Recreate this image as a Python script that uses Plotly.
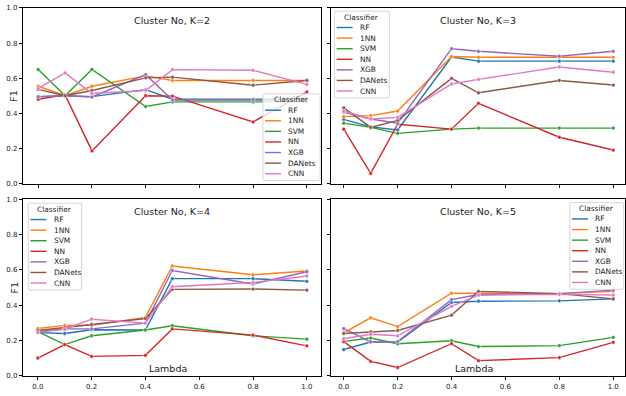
import plotly.graph_objects as go

# ---------------- data ----------------
lambdas = [0.0, 0.1, 0.2, 0.4, 0.5, 0.8, 1.0]
classifiers = ["RF", "1NN", "SVM", "NN", "XGB", "DANets", "CNN"]
colors = ["#1f77b4", "#ff7f0e", "#2ca02c", "#d62728", "#9467bd", "#8c564b", "#e377c2"]
panel_titles = ["Cluster No, K=2", "Cluster No, K=3", "Cluster No, K=4", "Cluster No, K=5"]
y_ticks = [0.0, 0.2, 0.4, 0.6, 0.8, 1.0]
y_tick_labels = ["0.0", "0.2", "0.4", "0.6", "0.8", "1.0"]
x_ticks = [0.0, 0.2, 0.4, 0.6, 0.8, 1.0]
x_tick_labels = ["0.0", "0.2", "0.4", "0.6", "0.8", "1.0"]

k2_rf     = [0.495, 0.500, 0.495, 0.535, 0.480, 0.480, 0.480]
k2_1nn    = [0.554, 0.500, 0.554, 0.613, 0.587, 0.587, 0.587]
k2_svm    = [0.649, 0.500, 0.650, 0.439, 0.465, 0.465, 0.465]
k2_nn     = [0.480, 0.505, 0.186, 0.500, 0.498, 0.351, 0.522]
k2_xgb    = [0.494, 0.500, 0.493, 0.620, 0.476, 0.476, 0.476]
k2_danets = [0.536, 0.500, 0.530, 0.602, 0.606, 0.560, 0.587]
k2_cnn    = [0.542, 0.630, 0.513, 0.530, 0.649, 0.645, 0.565]

k3_rf     = [0.366, 0.323, 0.305, 0.720, 0.697, 0.697, 0.697]
k3_1nn    = [0.381, 0.387, 0.413, 0.723, 0.719, 0.720, 0.719]
k3_svm    = [0.344, 0.320, 0.286, 0.310, 0.316, 0.316, 0.316]
k3_nn     = [0.310, 0.058, 0.338, 0.310, 0.457, 0.264, 0.191]
k3_xgb    = [0.407, 0.368, 0.344, 0.768, 0.753, 0.725, 0.753]
k3_danets = [0.431, 0.320, 0.360, 0.599, 0.517, 0.587, 0.561]
k3_cnn    = [0.413, 0.368, 0.377, 0.567, 0.593, 0.664, 0.634]

k4_rf     = [0.244, 0.239, 0.260, 0.259, 0.550, 0.550, 0.535]
k4_1nn    = [0.267, 0.285, 0.285, 0.330, 0.622, 0.572, 0.593]
k4_svm    = [0.250, 0.176, 0.226, 0.259, 0.283, 0.226, 0.207]
k4_nn     = [0.100, 0.176, 0.109, 0.115, 0.265, 0.230, 0.169]
k4_xgb    = [0.250, 0.265, 0.265, 0.298, 0.596, 0.520, 0.589]
k4_danets = [0.256, 0.274, 0.290, 0.324, 0.489, 0.491, 0.485]
k4_cnn    = [0.245, 0.263, 0.320, 0.298, 0.504, 0.528, 0.565]

k5_rf     = [0.148, 0.191, 0.190, 0.415, 0.422, 0.424, 0.435]
k5_1nn    = [0.242, 0.328, 0.278, 0.467, 0.467, 0.465, 0.478]
k5_svm    = [0.194, 0.213, 0.181, 0.198, 0.165, 0.170, 0.217]
k5_nn     = [0.193, 0.081, 0.046, 0.181, 0.085, 0.102, 0.189]
k5_xgb    = [0.267, 0.191, 0.193, 0.431, 0.460, 0.465, 0.485]
k5_danets = [0.239, 0.248, 0.256, 0.343, 0.478, 0.465, 0.435]
k5_cnn    = [0.209, 0.235, 0.226, 0.393, 0.456, 0.461, 0.457]

panels = [
    [k2_rf, k2_1nn, k2_svm, k2_nn, k2_xgb, k2_danets, k2_cnn],
    [k3_rf, k3_1nn, k3_svm, k3_nn, k3_xgb, k3_danets, k3_cnn],
    [k4_rf, k4_1nn, k4_svm, k4_nn, k4_xgb, k4_danets, k4_cnn],
    [k5_rf, k5_1nn, k5_svm, k5_nn, k5_xgb, k5_danets, k5_cnn],
]

# ---------------- layout helpers (pixel geometry) ----------------
W, H = 626, 396
FONT = "DejaVu Sans"
TXT = "#1a1a1a"

def px(x):
    return x / W

def py(y):
    return 1 - y / H

# axes boxes in pixels: (left, right, top, bottom) and x position of data 0 / 1
boxes = [
    (23.3, 321.7, 4.0, 183.3, 38.3, 307.3),
    (331.7, 625.5, 4.0, 183.3, 344.3, 614.2),
    (23.3, 321.7, 199.3, 379.3, 37.9, 307.3),
    (331.7, 625.5, 199.3, 379.3, 344.3, 614.2),
]

fig = go.Figure()
layout = dict(
    width=W, height=H,
    margin=dict(l=0, r=0, t=0, b=0),
    paper_bgcolor="white", plot_bgcolor="white",
    showlegend=False,
    font=dict(family=FONT, size=7, color=TXT),
)

annotations = []
shapes = []

for i, (series, box) in enumerate(zip(panels, boxes)):
    l, r, t, b, x0p, x1p = box
    unit = x1p - x0p
    xr = [-(x0p - l) / unit, (r - x0p) / unit]
    sfx = "" if i == 0 else str(i + 1)
    show_xlab = i >= 2
    show_ylab = i % 2 == 0
    layout["xaxis" + sfx] = dict(
        domain=[px(l), px(r)], range=xr, anchor="y" + sfx,
        showgrid=False, zeroline=False, showline=True, mirror=True,
        linecolor="black", linewidth=1,
        ticks="outside", ticklen=3.5, tickwidth=0.8, tickcolor="black",
        tickvals=x_ticks, ticktext=x_tick_labels, showticklabels=show_xlab,
        tickfont=dict(family=FONT, size=7, color=TXT),
    )
    layout["yaxis" + sfx] = dict(
        domain=[py(b), py(t)], range=[0, 1], anchor="x" + sfx,
        showgrid=False, zeroline=False, showline=True, mirror=True,
        linecolor="black", linewidth=1,
        ticks="outside", ticklen=3.5, tickwidth=0.8, tickcolor="black",
        tickvals=y_ticks, ticktext=y_tick_labels, showticklabels=show_ylab,
        tickfont=dict(family=FONT, size=7, color=TXT),
    )
    for name, vals, col in zip(classifiers, series, colors):
        fig.add_trace(go.Scatter(
            x=lambdas, y=vals, mode="lines+markers", name=name,
            xaxis="x" + sfx, yaxis="y" + sfx,
            line=dict(color=col, width=1.4),
            marker=dict(color=col, size=3.8, line=dict(color="white", width=0.5)),
            showlegend=False,
        ))
    # panel title inside the axes
    annotations.append(dict(
        x=px((l + r) / 2), y=py(t + 12.8), xref="paper", yref="paper",
        text=panel_titles[i], showarrow=False, xanchor="center", yanchor="middle",
        font=dict(family=FONT, size=9.5, color=TXT),
    ))
    if show_ylab:
        annotations.append(dict(
            x=px(14), y=py((t + b) / 2), xref="paper", yref="paper",
            text="F1", showarrow=False, textangle=-90, xanchor="center", yanchor="middle",
            font=dict(family=FONT, size=9.5, color=TXT),
        ))
    if show_xlab:
        annotations.append(dict(
            x=px((l + r) / 2 - 4), y=py(b - 6.8), xref="paper", yref="paper",
            text="Lambda", showarrow=False, xanchor="center", yanchor="middle",
            font=dict(family=FONT, size=9.5, color=TXT),
        ))

# ---------------- manual legends (matplotlib style) ----------------
legend_boxes = [  # left, top, width
    (263.3, 91.7, 57.4),
    (335.0, 7.3, 55.0),
    (28.3, 203.3, 53.4),
    (570.7, 202.7, 54.0),
]
for (lx, ly, lw) in legend_boxes:
    lh = 88.5
    rr = 2.0
    x0, x1, y0, y1 = lx, lx + lw, ly, ly + lh
    path = (f"M {px(x0 + rr)},{py(y0)} L {px(x1 - rr)},{py(y0)} "
            f"Q {px(x1)},{py(y0)} {px(x1)},{py(y0 + rr)} "
            f"L {px(x1)},{py(y1 - rr)} Q {px(x1)},{py(y1)} {px(x1 - rr)},{py(y1)} "
            f"L {px(x0 + rr)},{py(y1)} Q {px(x0)},{py(y1)} {px(x0)},{py(y1 - rr)} "
            f"L {px(x0)},{py(y0 + rr)} Q {px(x0)},{py(y0)} {px(x0 + rr)},{py(y0)} Z")
    shapes.append(dict(type="path", path=path, xref="paper", yref="paper",
                       fillcolor="rgba(255,255,255,0.8)",
                       line=dict(color="#cccccc", width=0.8), layer="above"))
    annotations.append(dict(
        x=px(lx + lw / 2), y=py(ly + 6.2), xref="paper", yref="paper",
        text="Classifier", showarrow=False, xanchor="center", yanchor="middle",
        font=dict(family=FONT, size=7.4, color=TXT),
    ))
    for j, (name, col) in enumerate(zip(classifiers, colors)):
        yy = ly + 16.7 + j * 10.8
        shapes.append(dict(type="line", xref="paper", yref="paper",
                           x0=px(lx + 2.2), x1=px(lx + 18.2), y0=py(yy), y1=py(yy),
                           line=dict(color=col, width=1.4), layer="above"))
        annotations.append(dict(
            x=px(lx + 23.5), y=py(yy), xref="paper", yref="paper",
            text=name, showarrow=False, xanchor="left", yanchor="middle",
            font=dict(family=FONT, size=7.4, color=TXT),
        ))

layout["annotations"] = annotations
layout["shapes"] = shapes
fig.update_layout(**layout)

fig.write_html(
    "out.html",
    config={"displayModeBar": False},
    post_script="document.body.style.margin='0';document.body.style.overflow='hidden';",
)
